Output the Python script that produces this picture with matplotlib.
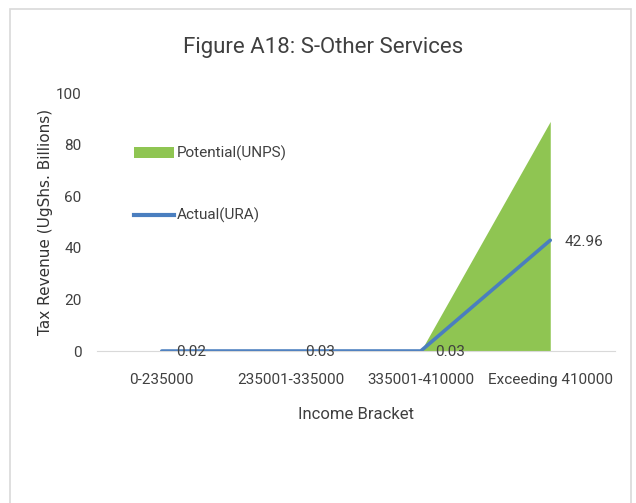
import matplotlib.pyplot as plt
from matplotlib.patches import Rectangle
from matplotlib.lines import Line2D
from matplotlib.patches import Patch

categories = ['0-235000', '235001-335000', '335001-410000', 'Exceeding 410000']
potential = [0, 0, 0, 89]
actual = [0.02, 0.03, 0.03, 42.96]
actual_labels = ['0.02', '0.03', '0.03', '42.96']

plt.rcParams['font.family'] = ['Roboto', 'DejaVu Sans']

green = '#8FC552'
blue = '#4A7EBF'
txt = '#404040'

fig = plt.figure(figsize=(6.36, 5.03), dpi=100)
ax = fig.add_axes([0.1525, 0.302, 0.8145, 0.513])

x = list(range(len(categories)))
ax.fill_between(x, potential, 0, color=green, linewidth=0, label='Potential(UNPS)')
ax.plot(x, actual, color=blue, linewidth=2.6, solid_capstyle='round', label='Actual(URA)')

# data labels to the right of each point
for xi, yi, s in zip(x, actual, actual_labels):
    ax.annotate(s, (xi, yi), xytext=(10, -1), textcoords='offset points',
                ha='left', va='center', fontsize=11, color=txt)

ax.set_xlim(-0.5, 3.5)
ax.set_ylim(0, 100)
ax.set_yticks([0, 20, 40, 60, 80, 100])
ax.set_xticks(x)
ax.set_xticklabels(categories)
ax.tick_params(axis='both', length=0, labelsize=11, labelcolor=txt)
ax.tick_params(axis='x', pad=16)
ax.tick_params(axis='y', pad=11)
for side in ['top', 'right', 'left']:
    ax.spines[side].set_visible(False)
ax.spines['bottom'].set_color('#D9D9D9')

ax.set_xlabel('Income Bracket', fontsize=12, color=txt, labelpad=14)
ax.set_ylabel('Tax Revenue (UgShs. Billions)', fontsize=11, color='#333333',
              family='DejaVu Sans', labelpad=2)

handles = [Patch(facecolor=green, edgecolor='none'),
           Line2D([0], [0], color=blue, linewidth=3)]
ax.legend(handles, ['Potential(UNPS)', 'Actual(URA)'], loc='upper left',
          bbox_to_anchor=(0.06, 0.818), frameon=False, fontsize=11,
          labelcolor=txt, handlelength=2.6, handletextpad=0.2,
          labelspacing=3.05, borderaxespad=0)

fig.text(0.508, 0.906, 'Figure A18: S-Other Services', ha='center', va='center',
         fontsize=16, color=txt)

# light grey chart frame, open at the bottom
fig.patches.append(Rectangle((10 / 636, -0.05), 621 / 636, 1.05 - 9 / 503,
                             transform=fig.transFigure, fill=False,
                             edgecolor='#D9D9D9', linewidth=1.2))

plt.savefig('out.png')
